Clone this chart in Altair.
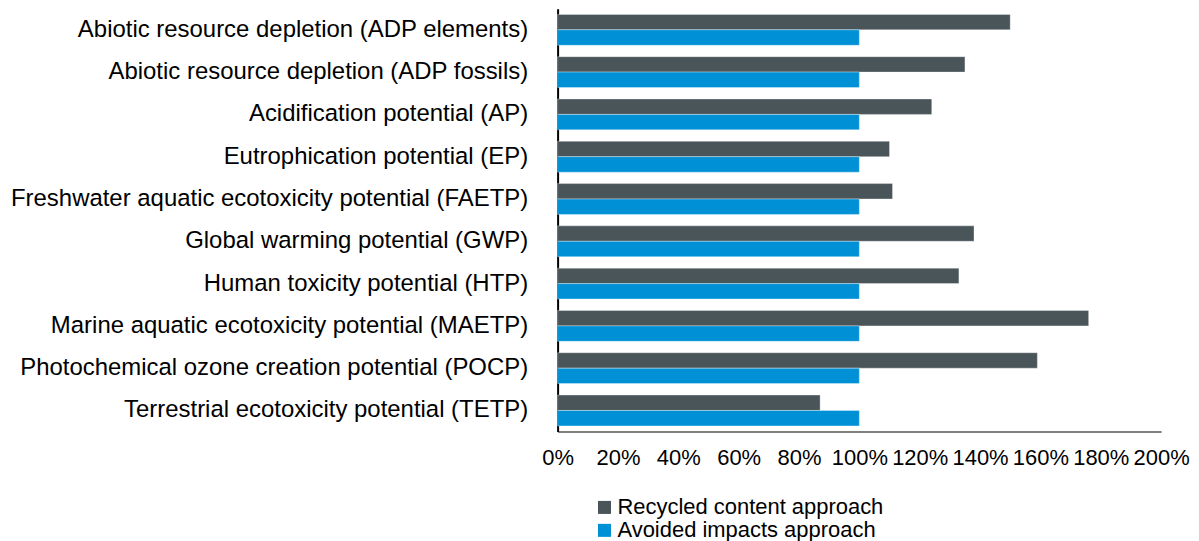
import altair as alt
import pandas as pd

categories = [
    "Abiotic resource depletion (ADP elements)",
    "Abiotic resource depletion (ADP fossils)",
    "Acidification potential (AP)",
    "Eutrophication potential (EP)",
    "Freshwater aquatic ecotoxicity potential (FAETP)",
    "Global warming potential (GWP)",
    "Human toxicity potential (HTP)",
    "Marine aquatic ecotoxicity potential (MAETP)",
    "Photochemical ozone creation potential (POCP)",
    "Terrestrial ecotoxicity potential (TETP)",
]
series = ["Recycled content approach", "Avoided impacts approach"]
recycled = [1.50, 1.35, 1.24, 1.10, 1.11, 1.38, 1.33, 1.76, 1.59, 0.87]
avoided = [1.00, 1.00, 1.00, 1.00, 1.00, 1.00, 1.00, 1.00, 1.00, 1.00]
colors = ["#4A555A", "#0090D6"]
tick_values = [0, 0.2, 0.4, 0.6, 0.8, 1.0, 1.2, 1.4, 1.6, 1.8, 2.0]

rows = []
for c, r, a in zip(categories, recycled, avoided):
    rows.append({"category": c, "series": series[0], "value": r})
    rows.append({"category": c, "series": series[1], "value": a})
df = pd.DataFrame(rows)

FONT = "Liberation Sans"

chart = (
    alt.Chart(df)
    .mark_bar(strokeWidth=1, strokeOpacity=0.35, stroke="#ffffff")
    .encode(
        y=alt.Y(
            "category:N",
            sort=categories,
            scale=alt.Scale(paddingInner=0.27, paddingOuter=0.135),
            axis=alt.Axis(
                title=None,
                ticks=False,
                domainColor="#000000",
                domainWidth=2,
                labelFont=FONT,
                labelFontSize=24,
                labelColor="#000000",
                labelPadding=30,
                labelLimit=1000,
                grid=False,
            ),
        ),
        yOffset=alt.YOffset("series:N", sort=series),
        x=alt.X(
            "value:Q",
            scale=alt.Scale(domain=[0, 2], nice=False),
            axis=alt.Axis(
                title=None,
                values=tick_values,
                format=".0%",
                ticks=False,
                grid=False,
                domainColor="#808080",
                domainWidth=2,
                labelFont=FONT,
                labelFontSize=22,
                labelColor="#000000",
                labelPadding=16,
                labelFlush=False,
                labelOverlap=False,
            ),
        ),
        color=alt.Color(
            "series:N",
            sort=series,
            scale=alt.Scale(domain=series, range=colors),
            legend=alt.Legend(
                title=None,
                orient="none",
                legendX=36,
                legendY=489,
                symbolType="square",
                symbolSize=170,
                symbolStrokeWidth=0,
                labelFont=FONT,
                labelFontSize=22,
                labelColor="#000000",
                labelOffset=2,
                labelLimit=1000,
                rowPadding=1,
                direction="vertical",
            ),
        ),
    )
    .properties(
        width=605,
        height=424,
        background="#ffffff",
        autosize=alt.AutoSizeParams(type="none"),
        padding={"left": 551, "top": 0, "right": 30, "bottom": 118},
    )
    .configure_view(strokeWidth=0, stroke=None)
)

chart.save("out.html", embed_options={"renderer": "svg", "actions": False})
